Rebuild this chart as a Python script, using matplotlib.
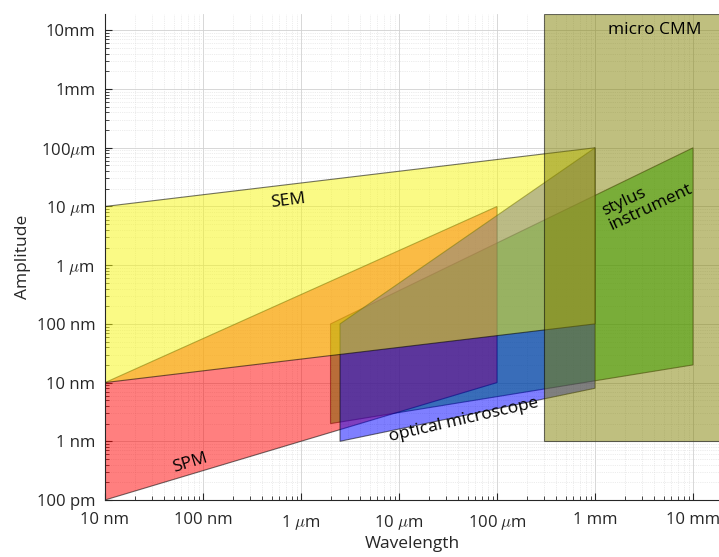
"""Amplitude-wavelength space of surface measurement instruments."""
import numpy as np
import matplotlib
matplotlib.use("Agg")
import matplotlib.pyplot as plt
from matplotlib.patches import Polygon
from matplotlib.ticker import LogLocator, NullFormatter

plt.rcParams["font.family"] = ["Open Sans", "DejaVu Sans"]
plt.rcParams["mathtext.fontset"] = "cm"

# polygon corners (wavelength [m], amplitude [m])
spm_wl = [1e-8, 1e-4, 1e-4, 1e-8]
spm_amp = [1e-10, 1e-8, 1e-5, 1e-8]
sem_wl = [1e-8, 1e-3, 1e-3, 1e-8]
sem_amp = [1e-8, 1e-7, 1e-4, 1e-5]
opt_wl = [2.5e-6, 1e-3, 1e-3, 2.5e-6]
opt_amp = [1e-9, 8e-9, 1e-4, 1e-7]
sty_wl = [2e-6, 1e-2, 1e-2, 2e-6]
sty_amp = [2e-9, 2e-8, 1e-4, 1e-7]
cmm_wl = [3e-4, 1e-1, 1e-1, 3e-4]
cmm_amp = [1e-9, 1e-9, 1.9e-2, 1.9e-2]

xticks = [1e-8, 1e-7, 1e-6, 1e-5, 1e-4, 1e-3, 1e-2]
xlabels = ["10 nm", "100 nm", r"1 $\mu$m", r"10 $\mu$m", r"100 $\mu$m", "1 mm", "10 mm"]
yticks = [1e-10, 1e-9, 1e-8, 1e-7, 1e-6, 1e-5, 1e-4, 1e-3, 1e-2]
ylabels = ["100 pm", "1 nm", "10 nm", "100 nm", r"1 $\mu$m", r"10 $\mu$m",
           r"100$\mu$m", "1mm", "10mm"]

fig = plt.figure(figsize=(7.19, 5.57), dpi=100)
ax = fig.add_axes([105 / 719, 57 / 557, 614 / 719, 486 / 557])
ax.set_xscale("log")
ax.set_yscale("log")
ax.set_xlim(1e-8, 1.84e-2)
ax.set_ylim(1e-10, 1.9e-2)

# draw order matters for the blended colours
shapes = [(sty_wl, sty_amp, (0.0, 0.75, 0.0), 0.55),
          (spm_wl, spm_amp, (1.0, 0.0, 0.0), 0.5),
          (opt_wl, opt_amp, (0.0, 0.0, 1.0), 0.5),
          (sem_wl, sem_amp, (0.97, 0.97, 0.05), 0.5),
          (cmm_wl, cmm_amp, (0.5, 0.5, 0.0), 0.5)]
for wl, amp, col, a in shapes:
    ax.add_patch(Polygon(np.column_stack([wl, amp]), closed=True,
                         facecolor=(*col, a), edgecolor=(0, 0, 0, 0.55),
                         lw=0.8, zorder=2))

ax.set_xticks(xticks)
ax.set_xticklabels(xlabels)
ax.set_yticks(yticks)
ax.set_yticklabels(ylabels)
ax.xaxis.set_minor_locator(LogLocator(base=10, subs=np.arange(2, 10), numticks=20))
ax.yaxis.set_minor_locator(LogLocator(base=10, subs=np.arange(2, 10), numticks=20))
ax.xaxis.set_minor_formatter(NullFormatter())
ax.yaxis.set_minor_formatter(NullFormatter())
ax.tick_params(which="both", direction="in", colors="0.15", labelcolor="0.15",
               labelsize=12, top=False, right=False)
ax.tick_params(axis="x", which="major", pad=9)
ax.tick_params(axis="y", which="major", pad=7)
ax.tick_params(which="major", length=5)
ax.tick_params(which="minor", length=3)
ax.grid(True, which="major", color="0.82", lw=0.6, zorder=0)
ax.grid(True, which="minor", color="0.86", lw=0.5, ls=":", zorder=0)
ax.set_axisbelow(True)
for s in ["top", "right"]:
    ax.spines[s].set_visible(False)
for s in ["left", "bottom"]:
    ax.spines[s].set_color("0.15")

ax.set_xlabel("Wavelength", fontsize=12.5, color="0.15", labelpad=3)
ax.set_ylabel("Amplitude", fontsize=12.5, color="0.15", labelpad=4)

fs = 12.5
ax.text(7.4e-7, 1.26e-5, "SEM", rotation=7, ha="center", va="center", fontsize=fs)
ax.text(7.4e-8, 4.3e-10, "SPM", rotation=17, ha="center", va="center", fontsize=fs)
ax.text(4.6e-5, 2.3e-9, "optical microscope", rotation=13, ha="center", va="center",
        fontsize=fs)
ax.text(3.4e-3, 1.3e-5, "stylus\ninstrument", rotation=25, ha="center", va="center",
        fontsize=fs, multialignment="left", linespacing=1.0)
ax.text(4.1e-3, 1.0e-2, "micro CMM", ha="center", va="center", fontsize=fs)

fig.savefig("out.png", dpi=100)
